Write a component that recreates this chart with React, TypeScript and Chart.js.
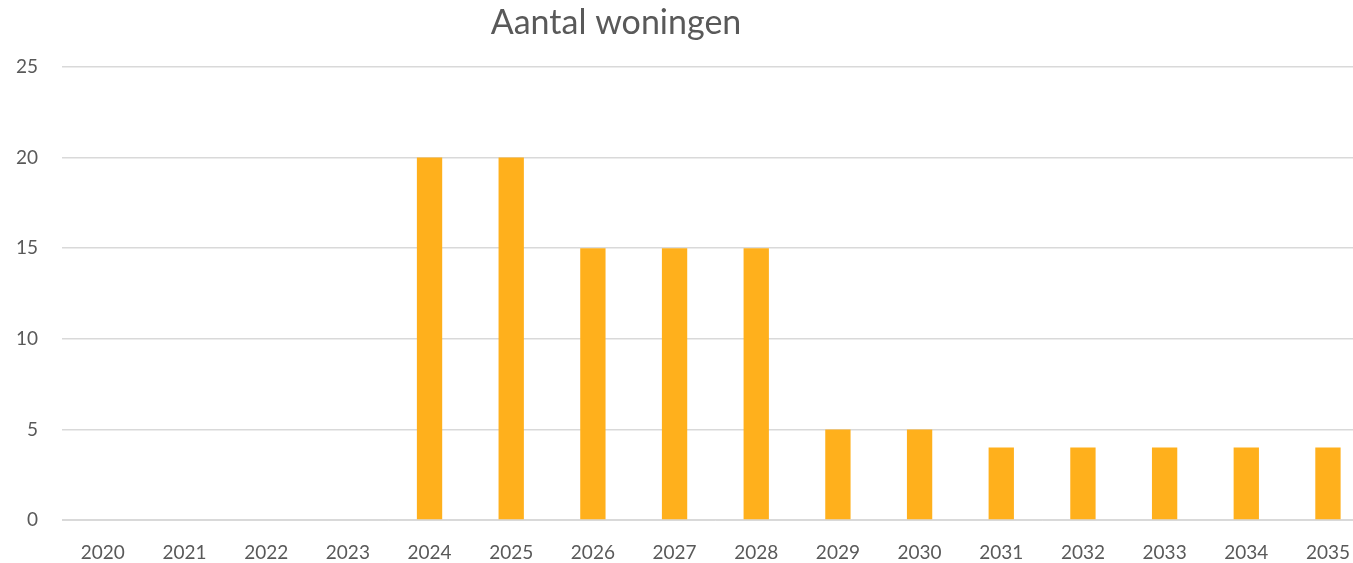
import React, { useEffect, useRef } from "react";
import { Chart, registerables } from "chart.js";

Chart.register(...registerables);

const years = ["2020", "2021", "2022", "2023", "2024", "2025", "2026", "2027", "2028", "2029", "2030", "2031", "2032", "2033", "2034", "2035"];
const woningen = [0, 0, 0, 0, 20, 20, 15, 15, 15, 5, 5, 4, 4, 4, 4, 4];
const titleText = "Aantal woningen";

const textColor = "#595959";
const gridColor = "#D9D9D9";
const barColor = "#FFB01C";

const titlePlugin = {
  id: "customTitle",
  afterDraw(chart: any) {
    const ctx = chart.ctx;
    ctx.save();
    ctx.font = "34px Lato, 'Open Sans', sans-serif";
    ctx.fillStyle = textColor;
    ctx.textAlign = "center";
    ctx.textBaseline = "middle";
    ctx.fillText(titleText, 616, 23);
    ctx.restore();
  },
};

export default function App() {
  const ref = useRef<HTMLCanvasElement | null>(null);
  useEffect(() => {
    if (!ref.current) return;
    const chart = new Chart(ref.current, {
      type: "bar",
      data: {
        labels: years,
        datasets: [
          {
            label: titleText,
            data: woningen,
            backgroundColor: barColor,
            borderWidth: 0,
            barPercentage: 0.62,
            categoryPercentage: 0.5,
          },
        ],
      },
      options: {
        animation: false,
        responsive: false,
        maintainAspectRatio: false,
        layout: { padding: { top: 67, left: 0, right: 0, bottom: 0 } },
        plugins: {
          legend: { display: false },
          title: { display: false },
          tooltip: { enabled: false },
        },
        scales: {
          x: {
            grid: { display: false, drawTicks: false },
            border: { display: true, color: gridColor, width: 1 },
            ticks: {
              color: textColor,
              font: { family: "Lato, 'Open Sans', sans-serif", size: 19 },
              padding: 21,
              maxRotation: 0,
              autoSkip: false,
            },
            afterFit(scale: any) {
              scale.height = 43;
            },
          },
          y: {
            min: 0,
            max: 25,
            grid: { color: gridColor, lineWidth: 1.5, drawTicks: false },
            border: { display: false },
            ticks: {
              stepSize: 5,
              color: textColor,
              font: { family: "Lato, 'Open Sans', sans-serif", size: 19 },
              padding: 24,
            },
            afterFit(scale: any) {
              scale.width = 62;
            },
          },
        },
      },
      plugins: [titlePlugin],
    });
    return () => chart.destroy();
  }, []);

  return (
    <div style={{ position: "fixed", left: 0, top: 0, width: 1353, height: 563, overflow: "hidden", background: "#fff" }}>
      <div style={{ width: 1371, height: 563 }}>
        <canvas ref={ref} width={1371} height={563} style={{ display: "block" }} />
      </div>
    </div>
  );
}
